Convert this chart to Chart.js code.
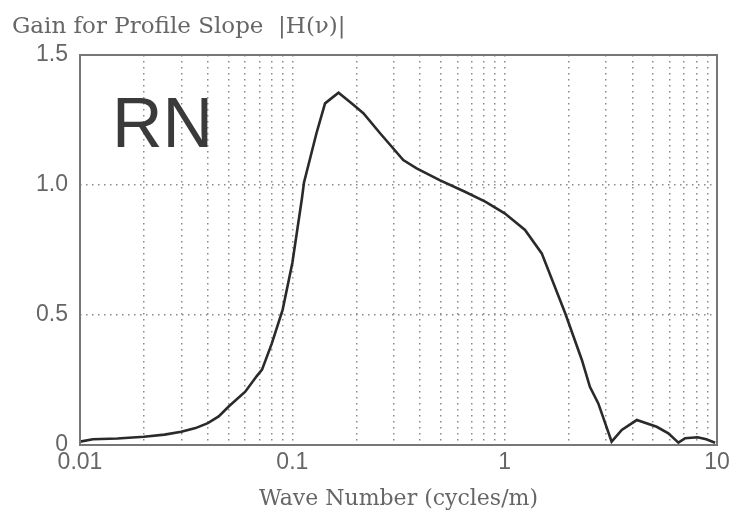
<!DOCTYPE html>
<html>
<head>
<meta charset="utf-8">
<script src="https://cdn.jsdelivr.net/npm/chart.js@4/dist/chart.umd.min.js"></script>
<style>
  html, body { margin: 0; padding: 0; background: #fff; }
  #wrap { width: 730px; height: 515px; }
</style>
</head>
<body>
<div id="wrap"><canvas id="gainChart"></canvas></div>
<script>
// ----- Data
const waveNumber = [0.01, 0.0115, 0.015, 0.02, 0.025, 0.03, 0.035, 0.04, 0.045, 0.05, 0.06, 0.068, 0.072,
    0.08, 0.09, 0.1, 0.111, 0.1135, 0.13, 0.1426, 0.165, 0.19, 0.216, 0.259, 0.333, 0.385, 0.494, 0.65,
    0.81, 1.0, 1.247, 1.495, 1.93, 2.31, 2.52, 2.76, 3.19, 3.56, 4.19, 5.2, 5.9, 6.58, 7.08, 8.1, 8.9, 9.8];
const gain = [0.013, 0.022, 0.025, 0.032, 0.04, 0.051, 0.065, 0.084, 0.11, 0.147, 0.205, 0.265, 0.29,
    0.39, 0.52, 0.70, 0.949, 1.01, 1.20, 1.314, 1.355, 1.314, 1.276, 1.199, 1.096, 1.064, 1.019, 0.974,
    0.936, 0.891, 0.827, 0.737, 0.506, 0.327, 0.224, 0.160, 0.013, 0.058, 0.096, 0.070, 0.045, 0.009,
    0.026, 0.030, 0.022, 0.009];

const xTicks = [0.01, 0.02, 0.03, 0.04, 0.05, 0.06, 0.07, 0.08, 0.09,
    0.1, 0.2, 0.3, 0.4, 0.5, 0.6, 0.7, 0.8, 0.9,
    1, 2, 3, 4, 5, 6, 7, 8, 9, 10];
const xLabels = { 0.01: '0.01', 0.1: '0.1', 1: '1', 10: '10' };
const yTicks = [0, 0.5, 1.0, 1.5];
const yLabels = ['0', '0.5', '1.0', '1.5'];

const chartTitle = 'Gain for Profile Slope  |H(\u03bd)|';
const xTitle = 'Wave Number (cycles/m)';
const panelTag = 'RN';

// ----- Extras: frame, header text, panel tag
const extras = {
    id: 'extras',
    afterDraw(chart) {
        const { ctx, chartArea: a } = chart;
        ctx.save();
        ctx.strokeStyle = '#777';
        ctx.lineWidth = 2;
        ctx.strokeRect(a.left, a.top, a.right - a.left, a.bottom - a.top);

        ctx.fillStyle = '#666';
        ctx.font = '23px "DejaVu Serif", serif';
        ctx.textBaseline = 'alphabetic';
        ctx.fillText(chartTitle, 12, 33);

        ctx.fillStyle = '#3a3a3a';
        ctx.font = '70px "Liberation Sans", sans-serif';
        ctx.fillText(panelTag, a.left + 32, a.top + 92);
        ctx.restore();
    }
};

const ctx = document.getElementById('gainChart');
new Chart(ctx, {
    type: 'scatter',
    data: {
        datasets: [{
            data: waveNumber.map((x, i) => ({ x, y: gain[i] })),
            showLine: true,
            borderColor: '#2a2a2a',
            borderWidth: 2.6,
            pointRadius: 0,
            tension: 0
        }]
    },
    options: {
        responsive: true,
        maintainAspectRatio: false,
        animation: false,
        layout: { padding: { left: 0, right: 13, top: 55, bottom: 0 } },
        plugins: { legend: { display: false }, tooltip: { enabled: false } },
        scales: {
            x: {
                type: 'logarithmic',
                min: 0.01, max: 10,
                afterBuildTicks: s => { s.ticks = xTicks.map(v => ({ value: v })); },
                afterFit: s => { s.height = 70; s.paddingLeft = 0; s.paddingRight = 0; },
                ticks: {
                    autoSkip: false, maxRotation: 0,
                    color: '#666',
                    font: { family: '"Liberation Sans", sans-serif', size: 23 },
                    padding: 4,
                    callback: v => xLabels[v] || ''
                },
                grid: { color: '#8a8a8a', lineWidth: 1.5, drawTicks: false },
                border: { display: false, dash: [1.5, 4.5] },
                title: {
                    display: true, text: xTitle, color: '#666',
                    font: { family: '"DejaVu Serif", serif', size: 22 },
                    padding: { top: 0, bottom: 3 }
                }
            },
            y: {
                min: 0, max: 1.5,
                afterBuildTicks: s => { s.ticks = yTicks.map(v => ({ value: v })); },
                afterFit: s => { s.width = 80; },
                ticks: {
                    color: '#666',
                    font: { family: '"Liberation Sans", sans-serif', size: 23 },
                    padding: 12,
                    callback: (v, i) => yLabels[i]
                },
                grid: { color: '#8a8a8a', lineWidth: 1.5, drawTicks: false },
                border: { display: false, dash: [1.5, 4.5] }
            }
        }
    },
    plugins: [extras]
});
</script>
</body>
</html>
